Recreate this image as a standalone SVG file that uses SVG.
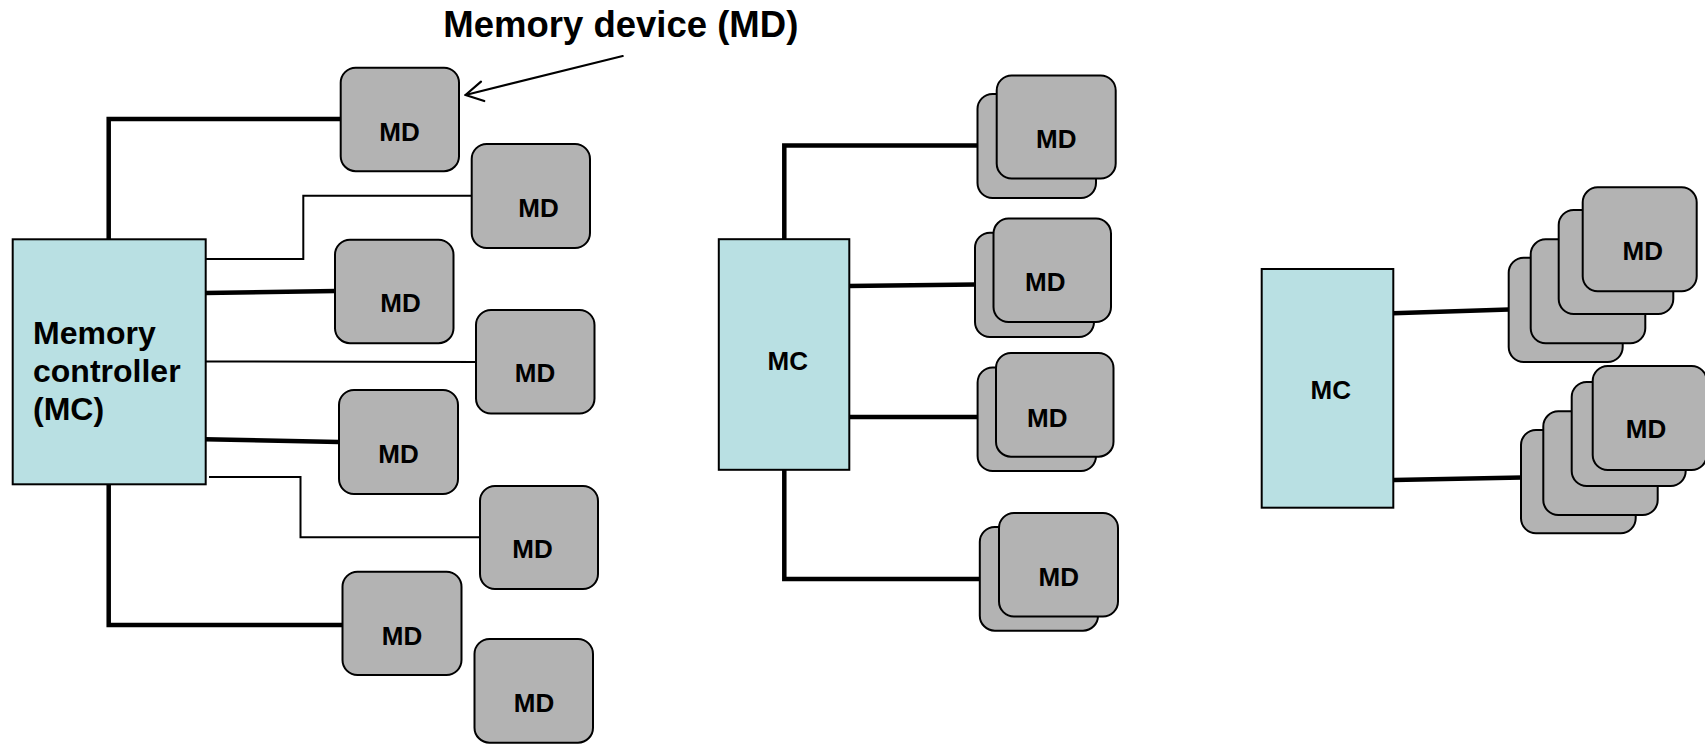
<svg xmlns="http://www.w3.org/2000/svg" width="1705" height="744" viewBox="0 0 1705 744">
<style>
.mc{fill:#b9e0e3;stroke:#000;stroke-width:2}
.md{fill:#b3b3b3;stroke:#000;stroke-width:2}
.t{font-family:"Liberation Sans",Arial,sans-serif;font-weight:bold;fill:#000}
.mdt{font-size:26px;text-anchor:middle}
.thick{fill:none;stroke:#000;stroke-width:4.5}
.thin{fill:none;stroke:#000;stroke-width:2}
.arrow{fill:none;stroke:#000;stroke-width:2.2;stroke-linecap:round;stroke-linejoin:round}
</style>
<rect width="1705" height="744" fill="#fff"/>

<g id="connectors">
<path class="thick" d="M108.7,239 V119 H341"/>
<path class="thin" d="M204,259 H303.3 V195.7 H473"/>
<path class="thick" d="M205,293 L336,291"/>
<path class="thin" d="M205,361.5 L477,362"/>
<path class="thick" d="M205,439.3 L339,442"/>
<path class="thin" d="M209,477 H300.5 V537.3 H481"/>
<path class="thick" d="M108.7,484 V625 H344"/>

<path class="thick" d="M784.3,239 V145.5 H978"/>
<path class="thick" d="M848,286 L976,284.5"/>
<path class="thick" d="M849,417 H978"/>
<path class="thick" d="M784.3,470 V579 H980"/>

<path class="thick" d="M1393,313.3 L1509,309.5"/>
<path class="thick" d="M1394,480 L1522,477.5"/>

<path class="arrow" d="M622.7,56 L465.5,95"/>
<path class="arrow" d="M481,81.7 L465.5,95 L484.3,101"/>
</g>

<g id="label-md">
<text class="t" x="443.3" y="37" font-size="36" textLength="355" lengthAdjust="spacingAndGlyphs">Memory device (MD)</text>
</g>

<g id="mc1">
<rect class="mc" x="12.7" y="239.3" width="193" height="245"/>
<text class="t" font-size="32" x="33" y="343.5">Memory</text>
<text class="t" font-size="32" x="33" y="382">controller</text>
<text class="t" font-size="32" x="33" y="420">(MC)</text>
</g>

<g id="md1-1"><rect class="md" x="340.7" y="67.7" width="118.3" height="103.5" rx="15"/><text class="t mdt" x="399.5" y="141">MD</text></g>
<g id="md1-2"><rect class="md" x="471.7" y="144" width="118.3" height="104" rx="15"/><text class="t mdt" x="538.5" y="216.5">MD</text></g>
<g id="md1-3"><rect class="md" x="335" y="239.7" width="118.5" height="103.5" rx="15"/><text class="t mdt" x="400.5" y="311.5">MD</text></g>
<g id="md1-4"><rect class="md" x="476" y="310" width="118.5" height="103.5" rx="15"/><text class="t mdt" x="535" y="382">MD</text></g>
<g id="md1-5"><rect class="md" x="339" y="390" width="119" height="104" rx="15"/><text class="t mdt" x="398.5" y="463">MD</text></g>
<g id="md1-6"><rect class="md" x="480" y="486" width="118" height="103" rx="15"/><text class="t mdt" x="532.5" y="557.5">MD</text></g>
<g id="md1-7"><rect class="md" x="342.5" y="571.7" width="119" height="103.3" rx="15"/><text class="t mdt" x="402" y="645">MD</text></g>
<g id="md1-8"><rect class="md" x="474.5" y="639" width="118.5" height="103.7" rx="15"/><text class="t mdt" x="534" y="712">MD</text></g>

<g id="mc2">
<rect class="mc" x="718.8" y="239.2" width="130.5" height="230.6"/>
<text class="t mdt" x="787.8" y="370">MC</text>
</g>

<g id="md2-1">
<rect class="md" x="977.5" y="94" width="118.5" height="104" rx="15"/>
<rect class="md" x="996.7" y="75.5" width="119" height="103" rx="15"/>
<text class="t mdt" x="1056.3" y="148">MD</text>
</g>
<g id="md2-2">
<rect class="md" x="975" y="232.7" width="119" height="104.3" rx="15"/>
<rect class="md" x="993.5" y="218.6" width="117.5" height="103.4" rx="15"/>
<text class="t mdt" x="1045.3" y="291">MD</text>
</g>
<g id="md2-3">
<rect class="md" x="977.6" y="367.5" width="118.4" height="103.5" rx="15"/>
<rect class="md" x="996" y="353" width="117.5" height="103.7" rx="15"/>
<text class="t mdt" x="1047.3" y="426.5">MD</text>
</g>
<g id="md2-4">
<rect class="md" x="979.8" y="527" width="118.2" height="103.7" rx="15"/>
<rect class="md" x="999" y="513" width="119" height="103.5" rx="15"/>
<text class="t mdt" x="1058.7" y="586">MD</text>
</g>

<g id="mc3">
<rect class="mc" x="1261.7" y="269" width="131.6" height="238.7"/>
<text class="t mdt" x="1330.7" y="399">MC</text>
</g>

<g id="md3-1">
<rect class="md" x="1508.7" y="257.7" width="114" height="104.3" rx="15"/>
<rect class="md" x="1530.7" y="239.3" width="114.6" height="104" rx="15"/>
<rect class="md" x="1558.7" y="210" width="114.6" height="104" rx="15"/>
<rect class="md" x="1582.7" y="187.3" width="114" height="104" rx="15"/>
<text class="t mdt" x="1642.7" y="260">MD</text>
</g>
<g id="md3-2">
<rect class="md" x="1521" y="430" width="114.7" height="103.3" rx="15"/>
<rect class="md" x="1543.3" y="411.3" width="114.4" height="103.7" rx="15"/>
<rect class="md" x="1571.7" y="382" width="114" height="104" rx="15"/>
<rect class="md" x="1592.7" y="366" width="114" height="104" rx="15"/>
<text class="t mdt" x="1646" y="438.3">MD</text>
</g>
</svg>
